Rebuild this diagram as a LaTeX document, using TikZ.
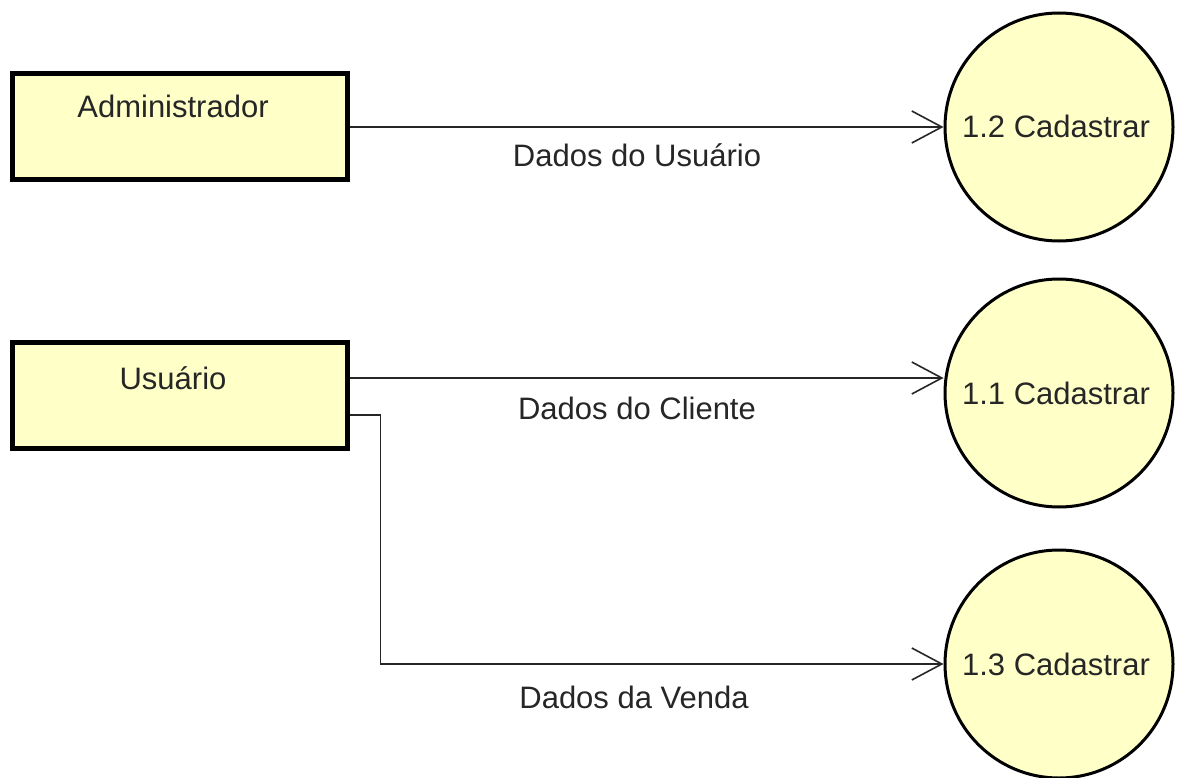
\documentclass[tikz,border=0pt]{standalone}
\usepackage{fontspec}
\setmainfont{Liberation Sans}
\usetikzlibrary{arrows.meta,calc}
\definecolor{dfdfill}{RGB}{255,255,200}
\tikzset{
  entity/.style={draw=black, line width=5pt, fill=dfdfill, minimum width=335pt, minimum height=106pt, inner sep=0pt},
  process/.style={circle, draw=black, line width=3pt, fill=dfdfill, minimum size=228pt, inner sep=0pt},
  txt/.style={font=\fontsize{31}{36}\selectfont, text height=22pt, text depth=0pt, inner sep=0pt, text=black!85},
  flow/.style={draw=black!85, line width=1.6pt, -{Straight Barb[length=30pt, width=32pt, line width=1.6pt]}},
}
\begin{document}
\begin{tikzpicture}[x=1pt, y=-1pt]
\useasboundingbox (0,0) rectangle (1177,778);
\fill[white] (0,0) rectangle (1177,778);
% entities
\node[entity] (admin) at (179.5,127) {};
\node[txt] (admintxt) at (173,107) {Administrador};
\node[entity] (user) at (179.5,395.5) {};
\node[txt] (usertxt) at (173,378) {Usuário};
% processes
\node[process] (c12) at (1059,127) {};
\node[txt] (c12txt) at (1056,127) {1.2 Cadastrar};
\node[process] (c11) at (1059,393) {};
\node[txt] (c11txt) at (1056,393) {1.1 Cadastrar};
\node[process] (c13) at (1059,664) {};
\node[txt] (c13txt) at (1056,664) {1.3 Cadastrar};
% flows
\draw[flow] (admin.east) -- (c12.west);
\node[txt] (l1) at (637,156) {Dados do Usuário};
\coordinate (u1) at ($(user.east)+(0,-17.5)$);
\draw[flow] (u1) -- (c11.west |- u1);
\node[txt] (l2) at (637,408) {Dados do Cliente};
\coordinate (u2) at ($(user.east)+(0,19.5)$);
\draw[flow] (u2) -- ++(31,0) |- (c13.west);
\node[txt] (l3) at (634,697) {Dados da Venda};
\end{tikzpicture}
\end{document}
